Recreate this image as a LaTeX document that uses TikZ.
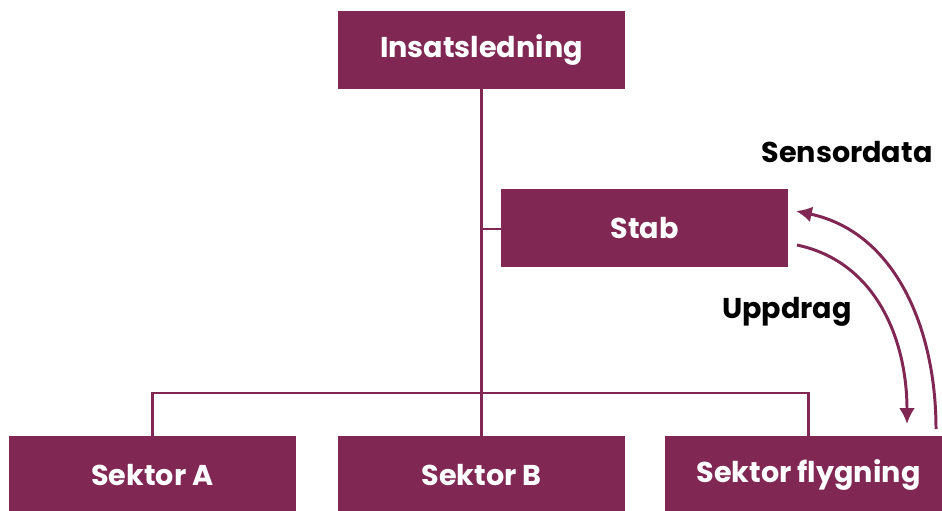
\documentclass[tikz,border=0pt]{standalone}
\usepackage{fontspec}
\setmainfont{Poppins}
\usetikzlibrary{arrows.meta}
\definecolor{plum}{RGB}{128,39,84}
\begin{document}
\begin{tikzpicture}[x=0.02cm,y=-0.02cm,
    box/.style={fill=plum,text=white,minimum width=5.74cm,minimum height=1.56cm,inner sep=0pt,font=\fontsize{16.3}{19}\selectfont\bfseries},
    lbl/.style={font=\fontsize{16.3}{19}\selectfont\bfseries},
    wire/.style={draw=plum,line width=1.7pt},
    flow/.style={draw=plum,line width=1.7pt,-{Latex[length=9pt,width=9pt]}}]
    \useasboundingbox (0,0) rectangle (942,510);

    \node[box] (led) at (481.5, 50) {Insatsledning};
    \node[box] (stab) at (644.5, 228) {Stab};
    \node[box] (sa) at (152.5, 475) {Sektor A};
    \node[box] (sb) at (481.5, 475) {Sektor B};
    \node[box] (sf) at (808.5, 475) {Sektor flygning};

    \node[lbl] (sens) at (847, 152) {Sensordata};
    \node[lbl] (upp) at (787, 312) {Uppdrag};

    \coordinate (bus) at (481, 393);
    \draw[wire] (led.south -| bus) -- (sb.north -| bus);
    \draw[wire] (stab.west |- 0,229) -- (481, 229);
    \draw[wire] (sa.north) -- (sa.north |- bus) -- (bus -| sf.north) -- (sf.north);

    \coordinate (u1) at (797, 245);
    \coordinate (u2) at (907, 424);
    \coordinate (s1) at (936, 429);
    \coordinate (s2) at (796, 211);
    \draw[flow] (u1) to[out=-12,in=90] (u2);
    \draw[flow] (s1) to[out=90,in=-12] (s2);
\end{tikzpicture}
\end{document}
